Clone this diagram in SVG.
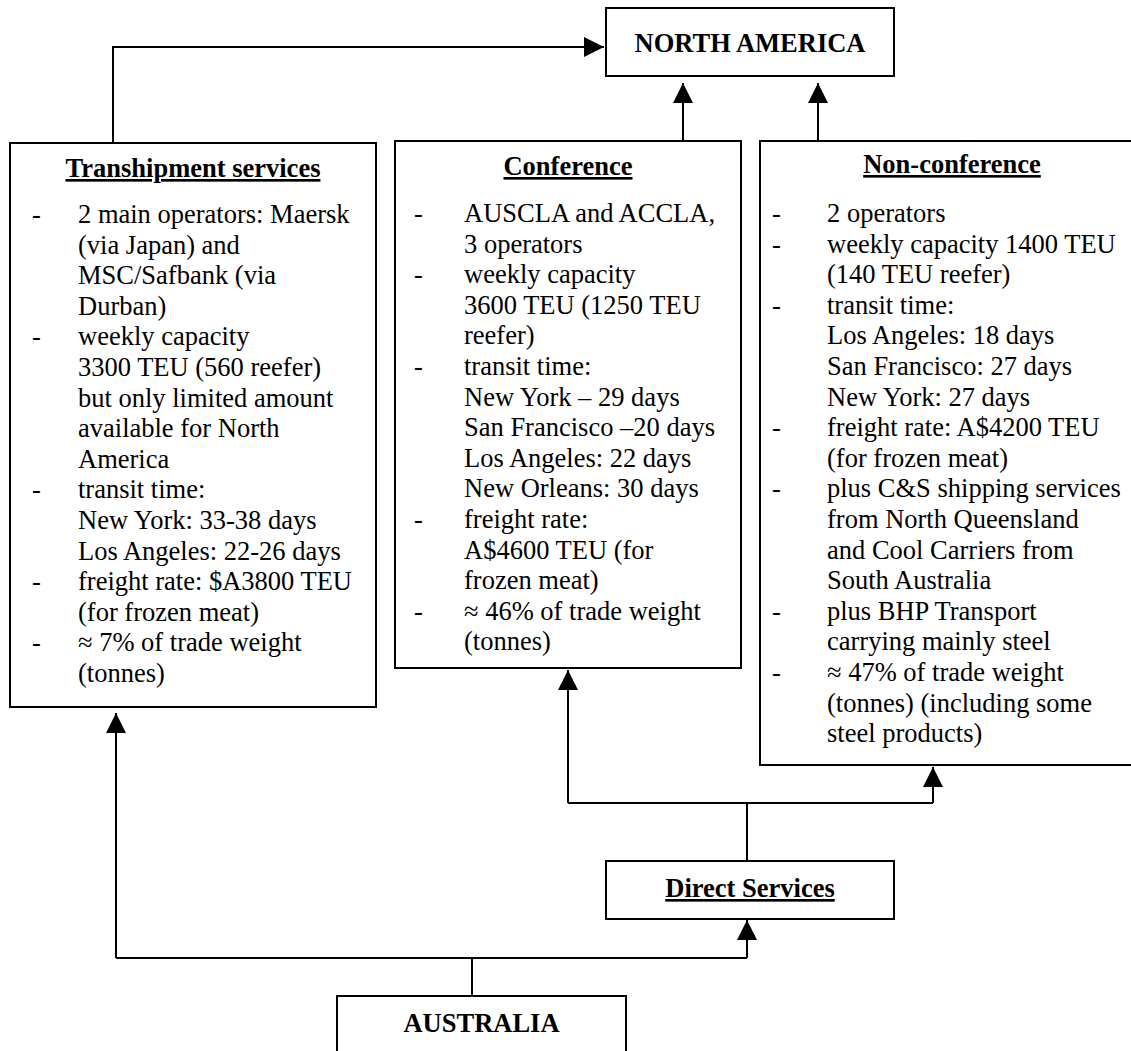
<svg xmlns="http://www.w3.org/2000/svg" width="1131" height="1051" viewBox="0 0 1131 1051">
<style>
.box{fill:#fff;stroke:#000;stroke-width:2}
.t{font-family:"Liberation Serif","Times New Roman",serif;font-size:26.5px;fill:#000}
.b{font-weight:bold}
.u{text-decoration:underline}
.c{text-anchor:middle}
.con{fill:none;stroke:#000;stroke-width:2}
</style>
<defs>
<marker id="ah" markerUnits="userSpaceOnUse" markerWidth="20" markerHeight="20" refX="20" refY="10" orient="auto" viewBox="0 0 20 20">
<path d="M0,0 L20,10 L0,20 Z" fill="#000"/>
</marker>
</defs>
<rect width="1131" height="1051" fill="#fff"/>
<g id="connectors">
<path class="con" d="M113,143 V47 H604" marker-end="url(#ah)"/>
<path class="con" d="M683,141 V83" marker-end="url(#ah)"/>
<path class="con" d="M818,141 V83" marker-end="url(#ah)"/>
<path class="con" d="M747,861 V803"/>
<path class="con" d="M568,803 H933"/>
<path class="con" d="M568,803 V670" marker-end="url(#ah)"/>
<path class="con" d="M933,803 V767" marker-end="url(#ah)"/>
<path class="con" d="M472,996 V958"/>
<path class="con" d="M116,958 H747"/>
<path class="con" d="M116,958 V713" marker-end="url(#ah)"/>
<path class="con" d="M747,958 V920" marker-end="url(#ah)"/>
</g>
<g id="north-america">
<rect class="box" x="606" y="8" width="288" height="68"/>
<text class="t b c" x="750" y="52">NORTH AMERICA</text>
</g>
<g id="transhipment">
<rect class="box" x="10" y="143" width="366" height="564"/>
<text class="t b c u" x="193" y="177">Transhipment services</text>
<text class="t" x="32" y="223">-</text>
<text class="t" x="32" y="345.4">-</text>
<text class="t" x="32" y="498.4">-</text>
<text class="t" x="32" y="590.2">-</text>
<text class="t" x="32" y="651.4">-</text>
<text class="t" x="78" y="223">2 main operators: Maersk</text>
<text class="t" x="78" y="253.6">(via Japan) and</text>
<text class="t" x="78" y="284.2">MSC/Safbank (via</text>
<text class="t" x="78" y="314.8">Durban)</text>
<text class="t" x="78" y="345.4">weekly capacity</text>
<text class="t" x="78" y="376">3300 TEU (560 reefer)</text>
<text class="t" x="78" y="406.6">but only limited amount</text>
<text class="t" x="78" y="437.2">available for North</text>
<text class="t" x="78" y="467.8">America</text>
<text class="t" x="78" y="498.4">transit time:</text>
<text class="t" x="78" y="529">New York: 33-38 days</text>
<text class="t" x="78" y="559.6">Los Angeles: 22-26 days</text>
<text class="t" x="78" y="590.2">freight rate: $A3800 TEU</text>
<text class="t" x="78" y="620.8">(for frozen meat)</text>
<text class="t" x="78" y="651.4">≈ 7% of trade weight</text>
<text class="t" x="78" y="682">(tonnes)</text>
</g>
<g id="conference">
<rect class="box" x="395" y="141" width="346" height="527"/>
<text class="t b c u" x="568" y="175">Conference</text>
<text class="t" x="414" y="222">-</text>
<text class="t" x="414" y="283.2">-</text>
<text class="t" x="414" y="375">-</text>
<text class="t" x="414" y="528">-</text>
<text class="t" x="414" y="619.8">-</text>
<text class="t" x="464" y="222">AUSCLA and ACCLA,</text>
<text class="t" x="464" y="252.6">3 operators</text>
<text class="t" x="464" y="283.2">weekly capacity</text>
<text class="t" x="464" y="313.8">3600 TEU (1250 TEU</text>
<text class="t" x="464" y="344.4">reefer)</text>
<text class="t" x="464" y="375">transit time:</text>
<text class="t" x="464" y="405.6">New York – 29 days</text>
<text class="t" x="464" y="436.2">San Francisco –20 days</text>
<text class="t" x="464" y="466.8">Los Angeles: 22 days</text>
<text class="t" x="464" y="497.4">New Orleans: 30 days</text>
<text class="t" x="464" y="528">freight rate:</text>
<text class="t" x="464" y="558.6">A$4600 TEU (for</text>
<text class="t" x="464" y="589.2">frozen meat)</text>
<text class="t" x="464" y="619.8">≈ 46% of trade weight</text>
<text class="t" x="464" y="650.4">(tonnes)</text>
</g>
<g id="non-conference">
<rect class="box" x="760" y="141" width="391" height="624"/>
<text class="t b c u" x="952" y="173">Non-conference</text>
<text class="t" x="772" y="222">-</text>
<text class="t" x="772" y="252.6">-</text>
<text class="t" x="772" y="313.8">-</text>
<text class="t" x="772" y="436.2">-</text>
<text class="t" x="772" y="497.4">-</text>
<text class="t" x="772" y="619.8">-</text>
<text class="t" x="772" y="681">-</text>
<text class="t" x="827" y="222">2 operators</text>
<text class="t" x="827" y="252.6">weekly capacity 1400 TEU</text>
<text class="t" x="827" y="283.2">(140 TEU reefer)</text>
<text class="t" x="827" y="313.8">transit time:</text>
<text class="t" x="827" y="344.4">Los Angeles: 18 days</text>
<text class="t" x="827" y="375">San Francisco: 27 days</text>
<text class="t" x="827" y="405.6">New York: 27 days</text>
<text class="t" x="827" y="436.2">freight rate: A$4200 TEU</text>
<text class="t" x="827" y="466.8">(for frozen meat)</text>
<text class="t" x="827" y="497.4">plus C&amp;S shipping services</text>
<text class="t" x="827" y="528">from North Queensland</text>
<text class="t" x="827" y="558.6">and Cool Carriers from</text>
<text class="t" x="827" y="589.2">South Australia</text>
<text class="t" x="827" y="619.8">plus BHP Transport</text>
<text class="t" x="827" y="650.4">carrying mainly steel</text>
<text class="t" x="827" y="681">≈ 47% of trade weight</text>
<text class="t" x="827" y="711.6">(tonnes) (including some</text>
<text class="t" x="827" y="742.2">steel products)</text>
</g>
<g id="direct-services">
<rect class="box" x="606" y="861" width="288" height="58"/>
<text class="t b c u" x="750" y="897">Direct Services</text>
</g>
<g id="australia">
<rect class="box" x="337" y="996" width="289" height="80"/>
<text class="t b c" x="481.5" y="1032">AUSTRALIA</text>
</g>
</svg>
